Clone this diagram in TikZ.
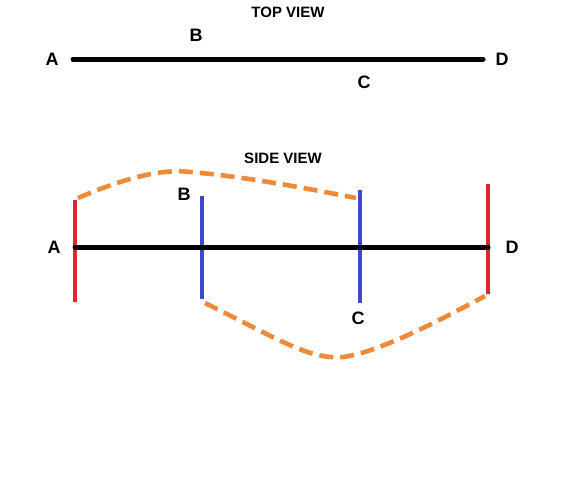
\documentclass[tikz,border=0pt]{standalone}
\usepackage{fontspec}
\setmainfont{Liberation Sans}
\definecolor{wirered}{RGB}{222,38,44}
\definecolor{wireblue}{RGB}{63,72,204}
\definecolor{wireorange}{RGB}{240,138,56}
\begin{document}
\begin{tikzpicture}[x=0.5pt,y=-0.5pt,
    lbl/.style={font=\bfseries\fontsize{9}{10}\selectfont,inner sep=0pt},
    title/.style={font=\bfseries\fontsize{7.5}{9}\selectfont,inner sep=0pt},
    beam/.style={line width=2.5pt,line cap=round},
    post/.style={line width=2pt},
    sag/.style={wireorange,line width=2.3pt,dash pattern=on 7pt off 3.5pt}]
  \useasboundingbox (0,0) rectangle (576,479);
  % top view
  \node[title] (top) at (288,12) {TOP VIEW};
  \coordinate (ta) at (73,59);
  \coordinate (td) at (483,59);
  \draw[beam] (ta) -- (td);
  \node[lbl] (tA) at (52,59) {A};
  \node[lbl] (tB) at (196,35) {B};
  \node[lbl] (tC) at (364,82) {C};
  \node[lbl] (tD) at (502,59) {D};
  % side view
  \node[title] (side) at (283,158) {SIDE VIEW};
  \coordinate (a1) at (75,200);  \coordinate (a2) at (75,302);
  \coordinate (b1) at (202,196); \coordinate (b2) at (202,299);
  \coordinate (c1) at (360,190); \coordinate (c2) at (360,303);
  \coordinate (d1) at (488,184); \coordinate (d2) at (488,294);
  \draw[post,wirered] (a1) -- (a2);
  \draw[post,wireblue] (b1) -- (b2);
  \draw[post,wireblue] (c1) -- (c2);
  \draw[post,wirered] (d1) -- (d2);
  \coordinate (sa) at (75,247);
  \coordinate (sd) at (488,247);
  \draw[beam] (sa) -- (sd);
  \node[lbl] (sA) at (54,247) {A};
  \node[lbl] (sB) at (184,194) {B};
  \node[lbl] (sC) at (358,318) {C};
  \node[lbl] (sD) at (512,247) {D};
  % sag curves
  \draw[sag] (78,198) .. controls (120,180) and (160,168) .. (190,172)
    .. controls (240,176) and (300,187) .. (356,198);
  \draw[sag] (205,303) .. controls (280,340) and (310,360) .. (343,357)
    .. controls (380,352) and (440,320) .. (485,296);
\end{tikzpicture}
\end{document}
